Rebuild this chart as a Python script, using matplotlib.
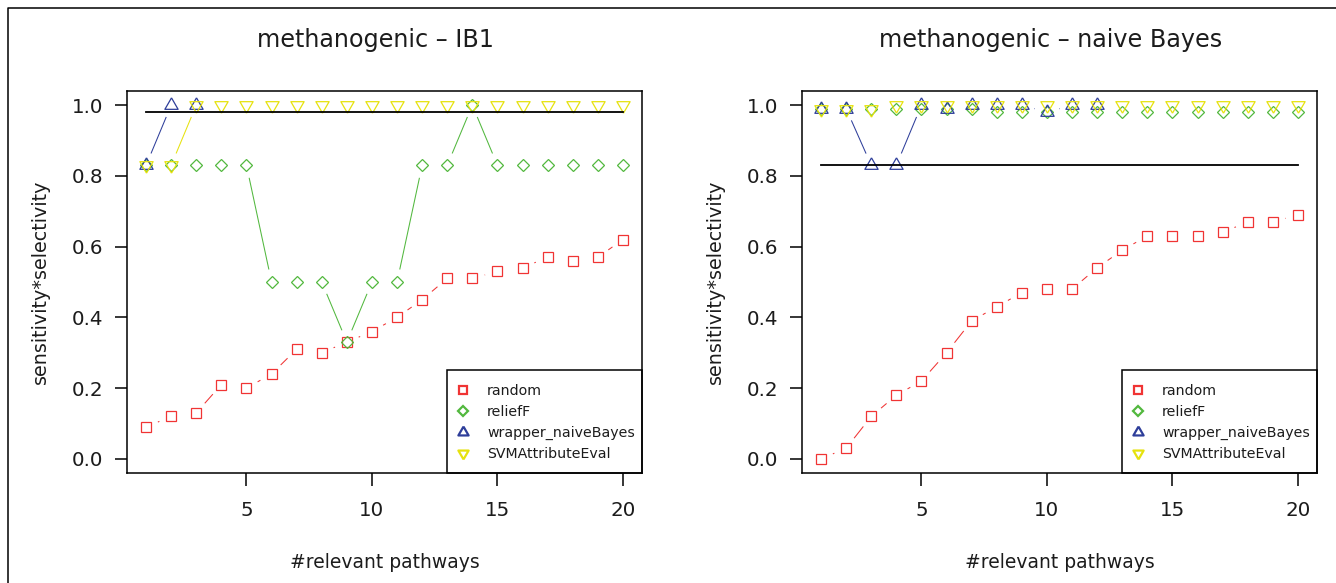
import numpy as np
import matplotlib
matplotlib.use('Agg')
import matplotlib.pyplot as plt
from matplotlib.lines import Line2D
from matplotlib.patches import Rectangle

plt.rcParams['font.family'] = ['DejaVu Sans']

# number of relevant pathways
x = [1, 2, 3, 4, 5, 6, 7, 8, 9, 10, 11, 12, 13, 14, 15, 16, 17, 18, 19, 20]

# methanogenic - IB1
ib1_random = [0.09, 0.12, 0.13, 0.21, 0.20, 0.24, 0.31, 0.30, 0.33, 0.36,
              0.40, 0.45, 0.51, 0.51, 0.53, 0.54, 0.57, 0.56, 0.57, 0.62]
ib1_relieff = [0.83, 0.83, 0.83, 0.83, 0.83, 0.50, 0.50, 0.50, 0.33, 0.50,
               0.50, 0.83, 0.83, 1.00, 0.83, 0.83, 0.83, 0.83, 0.83, 0.83]
ib1_wrapper = [0.83, 1.00, 1.00]
ib1_svm = [0.83, 0.83, 1.00, 1.00, 1.00, 1.00, 1.00, 1.00, 1.00, 1.00,
           1.00, 1.00, 1.00, 1.00, 1.00, 1.00, 1.00, 1.00, 1.00, 1.00]
ib1_all = 0.98

# methanogenic - naive Bayes
nb_random = [0.00, 0.03, 0.12, 0.18, 0.22, 0.30, 0.39, 0.43, 0.47, 0.48,
             0.48, 0.54, 0.59, 0.63, 0.63, 0.63, 0.64, 0.67, 0.67, 0.69]
nb_relieff = [0.99, 0.99, 0.99, 0.99, 0.99, 0.99, 0.99, 0.98, 0.98, 0.98,
              0.98, 0.98, 0.98, 0.98, 0.98, 0.98, 0.98, 0.98, 0.98, 0.98]
nb_wrapper = [0.99, 0.99, 0.83, 0.83, 1.00, 0.99, 1.00, 1.00, 1.00, 0.98,
              1.00, 1.00]
nb_svm = [0.99, 0.99, 0.99, 1.00, 1.00, 1.00, 1.00, 1.00, 1.00, 1.00,
          1.00, 1.00, 1.00, 1.00, 1.00, 1.00, 1.00, 1.00, 1.00, 1.00]
nb_all = 0.83

method_names = ['random', 'reliefF', 'wrapper_naiveBayes', 'SVMAttributeEval']
titles = ['methanogenic \u2013 IB1', 'methanogenic \u2013 naive Bayes']

red = '#F03434'
green = '#52B83E'
blue = '#2E3E9A'
yellow = '#E6E20E'
txt = '#1c1c1c'

# R-like triangles (centroid on the data point)
tri_up = [(0, 1), (-0.866, -0.5), (0.866, -0.5), (0, 1)]
tri_down = [(0, -1), (-0.866, 0.5), (0.866, 0.5), (0, -1)]

W, H = 1336, 583
AX_W, AX_H = 515, 382
fig = plt.figure(figsize=(W / 100, H / 100), dpi=100)
fig.patch.set_facecolor('white')

# outer frame (top and left edge only visible)
fig.add_artist(Line2D([8 / W, 8 / W, 1.0], [0.0, 1 - 8 / H, 1 - 8 / H],
                      transform=fig.transFigure, color='black', lw=1.1))


def gapped_line(ax, xs, ys, color, gap=12.8, lw=0.75):
    # type="b" style: segments between points, cut back around the markers
    pts = ax.transData.transform(np.column_stack([xs, ys]))
    inv = ax.transData.inverted()
    for p0, p1 in zip(pts[:-1], pts[1:]):
        d = p1 - p0
        dist = np.hypot(d[0], d[1])
        if dist <= 2 * gap:
            continue
        u = d / dist
        seg = inv.transform(np.array([p0 + u * gap, p1 - u * gap]))
        ax.plot(seg[:, 0], seg[:, 1], color=color, lw=lw, zorder=2,
                solid_capstyle='butt')


def draw_panel(left_px, title, rnd, rel, wrp, svm, allval):
    ax = fig.add_axes([left_px / W, 1 - 473 / H, AX_W / W, AX_H / H])
    ax.set_xlim(0.24, 20.76)
    ax.set_ylim(-0.04, 1.04)

    series = [
        (rnd, red, 's', 7.0),
        (rel, green, 'D', 6.2),
        (wrp, blue, tri_up, 11.0),
        (svm, yellow, tri_down, 11.0),
    ]
    for vals, col, mk, ms in series:
        xs = x[:len(vals)]
        gapped_line(ax, xs, vals, col)
        ax.plot(xs, vals, ls='none', marker=mk, ms=ms, mfc='none',
                mec=col, mew=0.9, zorder=3)

    ax.plot([x[0], x[-1]], [allval, allval], color='black', lw=1.3, zorder=4)

    ax.set_xticks([5, 10, 15, 20])
    ax.set_yticks([0.0, 0.2, 0.4, 0.6, 0.8, 1.0])
    ax.set_yticklabels(['0.0', '0.2', '0.4', '0.6', '0.8', '1.0'])
    ax.tick_params(axis='both', direction='out', length=9, width=1.1,
                   labelsize=14.3, colors='black', labelcolor=txt)
    ax.tick_params(axis='x', pad=11)
    ax.tick_params(axis='y', pad=8)
    for sp in ax.spines.values():
        sp.set_linewidth(1.1)
        sp.set_color('black')
        sp.set_zorder(7)

    ax.set_xlabel('#relevant pathways', fontsize=13.5, color=txt)
    ax.xaxis.set_label_coords(0.5, (473 - 563) / AX_H)
    ax.xaxis.label.set_va('center')
    ax.set_ylabel('sensitivity*selectivity', fontsize=13.8, color=txt)
    ax.yaxis.set_label_coords((40 - 127) / AX_W, 0.5)
    ax.yaxis.label.set_va('center')

    ax.text(0.5 - 9 / AX_W, 1 + 51 / AX_H, title, transform=ax.transAxes,
            ha='center', va='center', fontsize=17.2, color=txt)

    # legend box (bottom-right corner of the plot region)
    box_l = (447 - 127) / AX_W
    box_t = (473 - 370) / AX_H
    ax.add_patch(Rectangle((box_l, 0), 1 - box_l, box_t, transform=ax.transAxes,
                           facecolor='white', edgecolor='black', lw=1.1,
                           zorder=5, clip_on=False))

    handles = [
        Line2D([], [], ls='none', marker='s', ms=5.5, mfc='none', mec=red, mew=1.6),
        Line2D([], [], ls='none', marker='D', ms=5.0, mfc='none', mec=green, mew=1.6),
        Line2D([], [], ls='none', marker=tri_up, ms=8.5, mfc='none', mec=blue, mew=1.6),
        Line2D([], [], ls='none', marker=tri_down, ms=8.5, mfc='none', mec=yellow, mew=1.6),
    ]
    leg = ax.legend(handles, method_names, loc='upper left',
                    bbox_to_anchor=((455.9 - 127) / AX_W, (473 - 384) / AX_H),
                    borderaxespad=0, borderpad=0, fontsize=10.2, frameon=False,
                    labelspacing=0.5, handlelength=1.0, handletextpad=1.19)
    for t in leg.get_texts():
        t.set_color(txt)
    leg.set_zorder(6)
    return ax


draw_panel(127, titles[0], ib1_random, ib1_relieff, ib1_wrapper, ib1_svm, ib1_all)
draw_panel(802, titles[1], nb_random, nb_relieff, nb_wrapper, nb_svm, nb_all)

fig.savefig('out.png', dpi=100)
